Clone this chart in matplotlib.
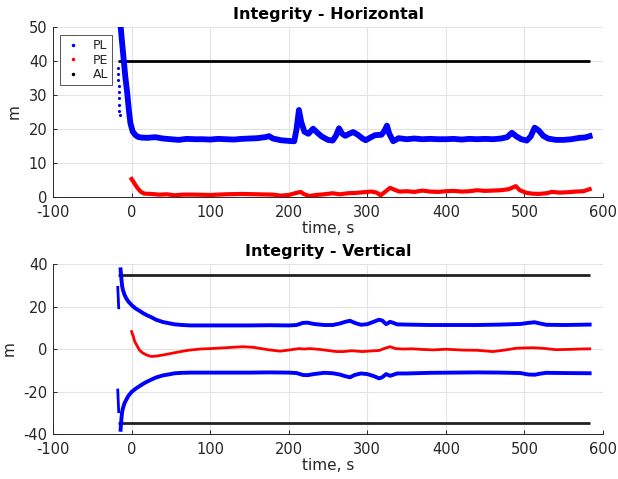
import matplotlib
matplotlib.use("Agg")
import matplotlib.pyplot as plt
from matplotlib.lines import Line2D

# ---------------- Horizontal integrity ----------------
# protection level (m), early sparse burst before the filter settles
hpl_burst_t = [-17.5, -17.2, -16.9, -16.6, -16.3, -16.0, -15.7, -15.4, -15.1]
hpl_burst_v = [38.0, 36.2, 34.4, 32.6, 30.8, 29.0, 27.2, 25.4, 24.0]

hpl_t = [-14.5, -13.5, -12, -10, -8, -5.5, -3.5, -1.5, 1.5, 5, 8, 12, 20, 30, 40, 50,
         60, 70, 80, 90, 100, 110, 120, 130, 140, 150, 160, 170, 175, 180, 190, 200,
         207, 210, 213, 216, 220, 225, 231, 236, 242, 250, 256, 260, 264, 268, 272,
         277, 282, 288, 294, 298, 304, 310, 318, 322, 325, 328, 333, 340, 350, 360,
         370, 380, 390, 400, 410, 420, 430, 440, 450, 460, 470, 478, 484, 490, 496,
         503, 508, 513, 518, 524, 530, 540, 550, 560, 570, 577, 583]
hpl_v = [52, 49, 45.2, 40.3, 35.4, 30.5, 25.6, 21.7, 19.2, 18.2, 17.7, 17.5, 17.4, 17.6,
         17.2, 17.0, 16.8, 17.1, 17.0, 17.0, 16.9, 17.1, 17.0, 16.9, 17.1, 17.2, 17.3,
         17.6, 17.9, 17.2, 16.7, 16.5, 16.4, 20.0, 25.6, 22.0, 19.2, 18.6, 20.1, 19.0,
         17.8, 16.8, 16.6, 18.0, 20.2, 18.6, 18.0, 18.6, 19.1, 18.3, 17.2, 16.7, 17.5,
         18.2, 18.3, 19.5, 21.0, 18.6, 16.4, 17.3, 17.0, 17.2, 17.0, 17.1, 17.0, 17.0,
         17.1, 16.9, 17.1, 17.0, 17.1, 17.0, 17.2, 17.6, 18.9, 17.8, 17.0, 16.6, 17.8,
         20.4, 19.6, 18.0, 17.2, 16.8, 16.8, 17.0, 17.4, 17.5, 17.9]

# position error (m)
hpe_t = [0, 2, 5, 8, 12, 16, 25, 35, 45, 55, 65, 80, 100, 120, 140, 160, 180, 190, 200,
         208, 215, 220, 226, 235, 245, 256, 265, 275, 285, 295, 305, 312, 317, 322, 329,
         335, 341, 350, 360, 370, 380, 390, 400, 410, 420, 430, 440, 450, 460, 470, 480,
         489, 494, 503, 510, 518, 528, 535, 545, 555, 565, 575, 583]
hpe_v = [5.3, 4.6, 3.5, 2.5, 1.5, 1.0, 0.9, 0.7, 0.8, 0.5, 0.7, 0.7, 0.6, 0.8, 0.9, 0.8,
         0.7, 0.4, 0.6, 1.1, 1.5, 0.8, 0.3, 0.6, 0.8, 1.1, 0.8, 1.1, 1.2, 1.4, 1.6, 1.3,
         0.5, 1.4, 2.7, 2.1, 1.6, 1.7, 1.5, 1.9, 1.6, 1.5, 1.7, 1.8, 1.6, 1.7, 2.0, 1.8,
         1.9, 2.0, 2.3, 3.2, 2.0, 1.2, 1.0, 0.9, 1.1, 1.5, 1.3, 1.4, 1.6, 1.7, 2.3]

# alert limits (m)
al_t = [-17, 583]
hal = 40
val = 35

# ---------------- Vertical integrity ----------------
vpl_burst_t = [-17.6, -17.4, -17.2, -17.0, -16.8, -16.6, -16.4]
vpl_up_burst = [29.0, 27.4, 25.8, 24.2, 22.6, 21.0, 19.4]
vpl_lo_burst = [-19.3, -21.0, -22.7, -24.4, -26.1, -27.8, -29.5]

vpl_t = [-14, -13, -12, -11, -9, -7, -4, 0, 5, 10, 15, 20, 25, 31, 40, 48, 55, 65, 75,
         100, 125, 150, 175, 200, 210, 218, 224, 232, 245, 256, 265, 272, 278, 284, 292,
         300, 308, 315, 319, 324, 329, 334, 338, 350, 380, 410, 440, 470, 495, 505, 513,
         520, 528, 550, 583]
vpl_up = [37.5, 33, 29.5, 27.8, 25.5, 24, 22.3, 20.7, 19.1, 18.0, 16.8, 15.8, 15.0, 13.8,
          12.7, 12.1, 11.6, 11.3, 11.1, 11.1, 11.1, 11.1, 11.2, 11.1, 11.3, 12.3, 12.4,
          11.8, 11.3, 11.3, 12.0, 12.8, 13.3, 12.3, 11.4, 11.7, 12.8, 13.8, 13.4, 11.7,
          12.8, 12.2, 11.6, 11.5, 11.3, 11.3, 11.3, 11.5, 11.8, 12.3, 12.6, 12.0, 11.4,
          11.3, 11.5]
vpl_lo = [-38, -33, -29.5, -27.8, -25.5, -24, -22, -20.2, -18.7, -17.5, -16.3, -15.3,
          -14.4, -13.4, -12.4, -11.9, -11.4, -11.2, -11.1, -11.1, -11.1, -11.1, -11.0,
          -11.1, -11.3, -12.2, -12.3, -11.8, -11.2, -11.4, -12.0, -12.8, -13.3, -12.2,
          -11.5, -11.8, -12.7, -13.8, -13.3, -11.8, -12.6, -12.0, -11.5, -11.5, -11.2,
          -11.1, -11.0, -11.1, -11.3, -12.0, -12.1, -11.6, -11.2, -11.3, -11.4]

vpe_t = [0, 2, 4, 7, 10, 14, 19, 25, 32, 40, 50, 61, 72, 87, 100, 115, 128, 142, 155,
         165, 175, 189, 200, 213, 220, 227, 240, 252, 261, 270, 280, 294, 305, 315, 322,
         329, 336, 345, 358, 370, 384, 400, 422, 440, 460, 475, 490, 511, 525, 540, 555,
         570, 583]
vpe_v = [8.2, 6.2, 3.5, 1.5, -0.5, -1.8, -2.8, -3.5, -3.3, -2.8, -2.1, -1.3, -0.6, 0.0,
         0.2, 0.5, 0.8, 1.1, 0.8, 0.2, -0.4, -1.0, -0.5, 0.2, 0.0, 0.2, -0.2, -0.8, -1.2,
         -1.2, -0.8, -1.2, -0.9, -0.7, 0.3, 1.1, 0.2, 0.0, 0.1, -0.2, -0.4, -0.1, -0.5,
         -0.6, -1.2, -0.5, 0.4, 0.6, 0.3, -0.3, -0.2, 0.0, 0.1]

x_ticks = [-100, 0, 100, 200, 300, 400, 500, 600]

txt = "#262626"
grid_c = "#e3e3e3"

plt.rcParams["font.family"] = ["DejaVu Sans"]
plt.rcParams["axes.unicode_minus"] = False

fig = plt.figure(figsize=(6.18, 4.79), dpi=100)
ax1 = fig.add_axes([0.0858, 0.5887, 0.8899, 0.3549])
ax2 = fig.add_axes([0.0858, 0.0939, 0.8899, 0.3549])


def style(ax, yticks):
    ax.set_xlim(-100, 600)
    ax.set_xticks(x_ticks)
    ax.set_ylim(yticks[0], yticks[-1])
    ax.set_yticks(yticks)
    ax.grid(True, color=grid_c, lw=0.8)
    ax.set_axisbelow(True)
    for s in ("top", "right"):
        ax.spines[s].set_visible(False)
    for s in ("left", "bottom"):
        ax.spines[s].set_color(txt)
        ax.spines[s].set_linewidth(0.7)
    ax.tick_params(direction="in", length=3, width=0.7, color=txt,
                   labelcolor=txt, labelsize=10.5)
    ax.tick_params(axis="x", pad=5.5)
    ax.tick_params(axis="y", pad=4)
    ax.set_xlabel("time, s", fontsize=11, color=txt, labelpad=1)
    ax.set_ylabel("m", fontsize=11, color=txt, labelpad=5)


style(ax1, [0, 10, 20, 30, 40, 50])
ax1.plot(al_t, [hal, hal], color="black", lw=2.0, solid_capstyle="butt", zorder=3)
ax1.plot(hpl_burst_t, hpl_burst_v, ls="none", marker=".", ms=2.5, color="blue", zorder=4)
ax1.plot(hpl_t, hpl_v, color="blue", lw=4.2, zorder=4)
ax1.plot(hpe_t, hpe_v, color="red", lw=3.0, zorder=4)
ax1.set_title("Integrity - Horizontal", fontsize=11.5, fontweight="bold", pad=6)

handles = [Line2D([], [], ls="none", marker=".", ms=3, color=c) for c in ("blue", "red", "black")]
leg = ax1.legend(handles, ["PL", "PE", "AL"], loc="upper left", fontsize=9,
                 bbox_to_anchor=(0.008, 0.965), handlelength=1.5, handletextpad=0.8,
                 borderpad=0.3, labelspacing=0.12, fancybox=False, framealpha=1,
                 borderaxespad=0.2)
leg.get_frame().set_edgecolor("#555555")
leg.get_frame().set_linewidth(0.7)
for t in leg.get_texts():
    t.set_color(txt)

style(ax2, [-40, -20, 0, 20, 40])
ax2.plot(al_t, [val, val], color="#222222", lw=2.0, solid_capstyle="butt", zorder=3)
ax2.plot(al_t, [-val, -val], color="#222222", lw=2.0, solid_capstyle="butt", zorder=3)
ax2.plot(vpl_burst_t, vpl_up_burst, color="blue", lw=2.0, zorder=4)
ax2.plot(vpl_burst_t, vpl_lo_burst, color="blue", lw=2.0, zorder=4)
ax2.plot(vpl_t, vpl_up, color="blue", lw=2.8, zorder=4)
ax2.plot(vpl_t, vpl_lo, color="blue", lw=2.8, zorder=4)
ax2.plot(vpe_t, vpe_v, color="red", lw=2.0, zorder=4)
ax2.set_title("Integrity - Vertical", fontsize=11.5, fontweight="bold", pad=6)

fig.savefig("out.png", dpi=100, facecolor="white")
